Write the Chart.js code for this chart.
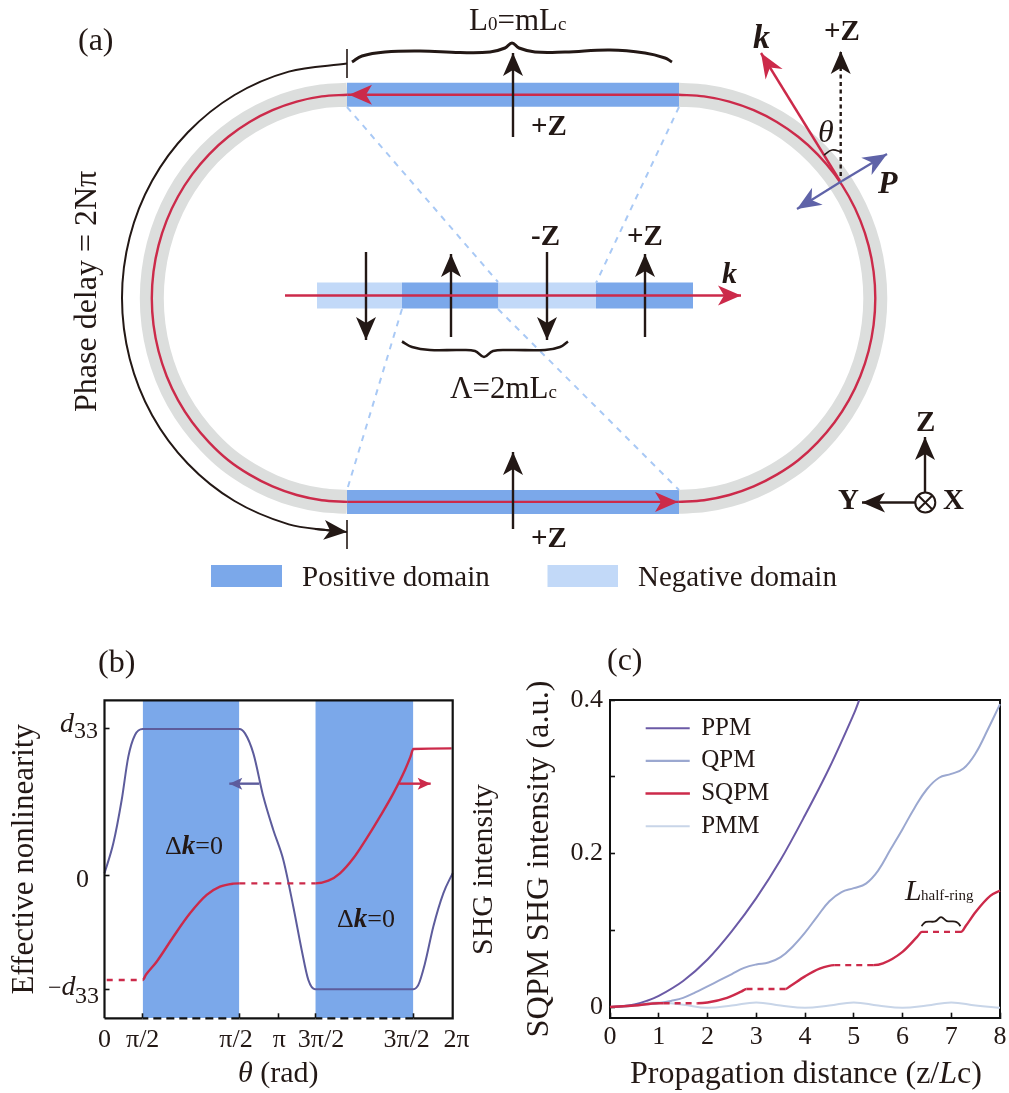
<!DOCTYPE html>
<html><head><meta charset="utf-8">
<style>html,body{margin:0;padding:0;background:#fff;width:1009px;height:1093px;overflow:hidden}
canvas{position:absolute;left:0;top:0}</style>
<script src="https://cdn.jsdelivr.net/npm/chart.js@4"></script>
</head><body>
<canvas id="a" width="1009" height="1093"></canvas>
<canvas id="b" width="1009" height="1093"></canvas>
<canvas id="c" width="1009" height="1093"></canvas>
<script>
/* ---------- panel (a): schematic, in page-sized diagram units ---------- */
const leftArcX=[347.3,321.8,296.7,272.5,249.55,228.3,209.1,192.2,178,166.7,158.5,153.5,151.8,153.5,158.5,166.7,178,192.2,209.1,228.3,249.55,272.5,296.7,321.8,347.3];
const leftArcY=[94.7,96.4,101.6,110.2,122,136.8,154.3,174.4,196.5,220.4,245.6,271.7,298.3,324.9,351,376.2,400.1,422.2,442.3,460.2,474.6,486.4,495,500.2,501.9];
const rightArcX=[678.3,704,729.3,753.7,776.8,798.2,817.6,834.6,848.9,860.3,868.6,873.6,875.3,873.6,868.6,860.3,848.9,834.6,817.6,798.2,776.8,753.7,729.3,704,678.3];
const rightArcY=[94.7,96.4,101.6,110.2,122,136.8,154.3,174.4,196.5,220.4,245.6,271.7,298.3,324.9,351,376.2,400.1,422.2,442.3,460.2,474.6,486.4,495,500.2,501.9];
const straightRuns=[[347.3,678.3,94.7],[347.3,678.3,501.9]];
const phaseArcX=[347,288.8,234.5,187.9,152.1,129.7,122,129.7,152.1,187.9,234.5,288.8,330];
const phaseArcY=[63.6,71.6,95,132.3,180.8,237.3,298,358.7,415.2,463.7,501,524.4,530.5];
const topBraceX=[352,362,385,420,460,490,505,512,519,535,565,610,645,665,672];
const topBraceY=[62,56,52,51,52.5,52,48,43,48,52,52,50,53,58,62];
const lambdaBraceX=[402,412,430,460,475,484,493,510,545,560,568];
const lambdaBraceY=[341.5,347,350,350,351,357,351,350,350,347,341.5];
const positiveBars=[[347,679,94.7],[347,679,502],[402,498.5,295.5],[596,693,295.5],[211,282,576]];
const negativeBars=[[317,402,295.5],[498.5,596,295.5],[547.5,618,576]];
const guideLines=[[347,107,498,282],[498,309,679,490],[679,107,596,283],[402,309,347,490]];
const tickBars=[[347,49,347,78],[347,520,347,549]];
const blackArrows=[[513,137,513,53],[513,529,513,452],[366,252,366,340],[451,337,451,254],[547,252,547,340],[645,337,645,254],[925,492,925,437],[915,502.5,862,502.5]];
const phaseArrow=[315,529,347,532];
const redArrows=[[678,94.7,349,94.7],[348,502,678,502],[285,295.5,741,295.5],[840,181,761,53]];
const zArrow=[840.7,176,840.7,51];
const polarisation=[[842,181,887,154],[842,181,797,209]];
const thetaArcX=[824,832,842];const thetaArcY=[155,150,152];
const axisOriginX=[925.3];const axisOriginY=[502.5];
/* ---------- panel (b) ---------- */
const bTickValues=[0.689,2.433,3.1416,3.804,5.573];
const bLabelValues=[0,0.689,2.373,3.154,3.907,5.453,6.355];
const bLabelTexts=['0','π/2','π/2','π','3π/2','3π/2','2π'];
const bYTicks=[-0.77,0,1];
const dEffX=[0,.159,.31,.43,.55,.689,2.433,2.535,2.686,2.866,3.046,3.227,3.407,3.558,3.678,3.798,5.573,5.663,5.783,5.933,6.114,6.283];
const dEffY=[.018,.222,.517,.812,.959,1,1,.97,.834,.54,.313,.109,-.209,-.503,-.707,-.77,-.77,-.741,-.594,-.345,-.118,.02];
const shgX=[.04,.689,.75,.941,1.242,1.543,1.844,2.084,2.325,2.433,3.804,4.039,4.249,4.49,4.73,4.971,5.212,5.422,5.52,5.573,6.264];
const shgY=[-.707,-.707,-.67,-.583,-.413,-.254,-.129,-.073,-.052,-.05,-.05,-.032,.018,.12,.256,.404,.562,.721,.81,.864,.868];
const shgDashed=[1,0,0,0,0,0,0,0,0,1,0,0,0,0,0,0,0,0,0,0];
const bandsX=[[.689,2.433],[3.804,5.573]];
const frameBX=[0,0,6.2832,6.2832,5.573,3.804,2.433,.689,0];
const frameBDashed=[0,0,0,0,1,0,1,0];
/* ---------- panel (c) ---------- */
const cXTicks=[0,1,2,3,4,5,6,7,8];
const cYTicks=[0,.1,.2,.3,.4];
const cYLabels=['0','','0.2','','0.4'];
const ppmX=[0,.25,.5,.75,1,1.5,2,2.5,3,3.5,4,4.5,5,5.11];
const ppmY=[0,.001,.0035,.008,.0145,.034,.062,.099,.142,.192,.25,.312,.382,.4];
const qpmX=[0,.25,.5,.75,1,1.25,1.5,1.75,2,2.25,2.5,2.75,3,3.25,3.5,3.75,4,4.25,4.5,4.75,5,5.25,5.5,5.75,6,6.25,6.5,6.75,7,7.25,7.5,7.75,8];
const qpmY=[0,.0005,.002,.0035,.005,.008,.012,.019,.027,.035,.043,.051,.0555,.058,.065,.079,.097,.118,.138,.15,.155,.161,.178,.205,.232,.26,.284,.299,.304,.311,.331,.362,.395];
const sqpmX=[0,.5,1,1.1,1.8,2,2.4,2.7,2.8,3.6,3.7,4,4.3,4.6,5.4,5.6,6,6.3,6.4,7.2,7.3,7.5,7.8,8];
const sqpmY=[0,.002,.005,.005,.005,.006,.012,.0205,.0235,.0235,.0275,.04,.05,.0547,.0547,.057,.072,.0915,.098,.098,.106,.124,.145,.152];
const sqpmDashed=[0,0,0,1,0,0,0,0,1,0,0,0,0,1,0,0,0,0,1,0,0,0,0];
const pmmX=[0,.5,1,1.5,2,2.5,3,3.5,4,4.5,5,5.5,6,6.5,7,7.5,8];
const pmmY=[0,.003,.006,.003,-.001,.002,.006,.002,-.001,.002,.006,.002,-.001,.002,.006,.002,-.001];
const halfRingBraceX=[6.39,6.48,6.67,6.79,6.91,7.08,7.14,7.19];
const halfRingBraceY=[.1056,.111,.1117,.1173,.1121,.1115,.1095,.1056];

const INK='#231815',RED='#cc2a4a',TRACK='#dcdedd',BLUE='#7ba8ea',LIGHT='#c2d9f8',GUIDE='#a9c9f5',VIOLET='#5f63a8';
const PPM='#6b5aa6',QPM='#9ba8d0',PMM='#c8d5e8',CURVE='#5d5c9c';
const S='"Liberation Serif"';
const F={r:`30px ${S}`,m:`31px ${S}`,pan:`32px ${S}`,ph:`32px ${S}`,xt:`32px ${S}`,xi:`italic 32px ${S}`,lab:`29px ${S}`,tick:`26px ${S}`,b:`bold 29px ${S}`,k:`italic bold 34px ${S}`,ki:`italic bold 30px ${S}`,th:`italic 32px ${S}`,P:`italic bold 32px ${S}`,sub:`19px ${S}`,sub2:`15px ${S}`,it:`italic 30px ${S}`,kb:`italic bold 27px ${S}`,d:`24px ${S}`,ds:`italic 28px ${S}`};

const pts=(xs,ys)=>xs.map((x,i)=>({x,y:ys[i]}));
const ln=(data,color,w,extra)=>Object.assign({data,borderColor:color,backgroundColor:color,borderWidth:w,pointRadius:0,fill:false,clip:false},extra||{});
const seg=(flags,dash)=>({borderDash:c=>flags[c.p0DataIndex]?dash:undefined});
const ordered=list=>list.map((d,i)=>Object.assign(d,{order:-i}));

function head(ctx,x0,y0,x1,y1,color,len,half,notch){
  const a=Math.atan2(y1-y0,x1-x0),c=Math.cos(a),s=Math.sin(a);
  ctx.fillStyle=color;ctx.beginPath();ctx.moveTo(x1,y1);
  ctx.lineTo(x1-len*c-half*s,y1-len*s+half*c);
  ctx.lineTo(x1-notch*c,y1-notch*s);
  ctx.lineTo(x1-len*c+half*s,y1-len*s-half*c);
  ctx.closePath();ctx.fill();
}
function overlay(arrows,texts){return {id:'overlay',afterDraw(chart){
  const {ctx,scales:{x,y}}=chart;ctx.save();
  arrows.forEach(([v,color,len,half,notch])=>head(ctx,x.getPixelForValue(v[0]),y.getPixelForValue(v[1]),x.getPixelForValue(v[2]),y.getPixelForValue(v[3]),color,len,half,notch));
  ctx.textBaseline='alphabetic';ctx.textAlign='left';ctx.fillStyle=INK;
  texts.forEach(t=>{ctx.save();ctx.translate(t[0],t[1]);if(t[3])ctx.rotate(t[3]);let cx=0;
    t[2].forEach(([s,f])=>{ctx.font=F[f];ctx.fillText(s,cx,0);cx+=ctx.measureText(s).width});ctx.restore();});
  ctx.restore();
}}}
const base={responsive:false,animation:false,events:[],parsing:false,normalized:false};

/* ---- (a) ---- */
const barW=b=>b[2]===576?22:(b[2]===295.5?26:24);
const arcStyle={tension:.33};
const aSets=[
  ln(pts(leftArcX,leftArcY),TRACK,24,arcStyle),
  ln(pts(rightArcX,rightArcY),TRACK,24,arcStyle),
  ...positiveBars.map(b=>ln(pts([b[0],b[1]],[b[2],b[2]]),BLUE,barW(b))),
  ...negativeBars.map(b=>ln(pts([b[0],b[1]],[b[2],b[2]]),LIGHT,barW(b))),
  ...guideLines.map(g=>ln(pts([g[0],g[2]],[g[1],g[3]]),GUIDE,2,{borderDash:[6,6]})),
  ln(pts(leftArcX,leftArcY),RED,2.4,arcStyle),
  ln(pts(rightArcX,rightArcY),RED,2.4,arcStyle),
  ...straightRuns.map(b=>ln(pts([b[0],b[1]],[b[2],b[2]]),RED,2.4)),
  ln(pts(phaseArcX,phaseArcY),INK,2,arcStyle),
  ln(pts(topBraceX,topBraceY),INK,3,{tension:.4}),
  ln(pts(lambdaBraceX,lambdaBraceY),INK,2.6,{tension:.4}),
  ...tickBars.map(g=>ln(pts([g[0],g[2]],[g[1],g[3]]),INK,1.6)),
  ...blackArrows.map(g=>ln(pts([g[0],g[2]],[g[1],g[3]]),INK,2.4)),
  ln(pts([phaseArrow[0],phaseArrow[2]],[phaseArrow[1],phaseArrow[3]]),INK,2),
  ...redArrows.slice(2).map(g=>ln(pts([g[0],g[2]],[g[1],g[3]]),RED,2.4)),
  ln(pts([zArrow[0],zArrow[2]],[zArrow[1],zArrow[3]]),INK,2.4,{borderDash:[4,3.5]}),
  ...polarisation.map(g=>ln(pts([g[0],g[2]],[g[1],g[3]]),VIOLET,2.2)),
  ln(pts(thetaArcX,thetaArcY),INK,1.6,{tension:.4}),
  ln(pts(axisOriginX,axisOriginY),INK,2,{showLine:false,pointStyle:'circle',pointRadius:10,pointBorderColor:INK,pointBorderWidth:2,pointBackgroundColor:'#fff'}),
  ln(pts(axisOriginX,axisOriginY),INK,2,{showLine:false,pointStyle:'crossRot',pointRadius:10,pointBorderColor:INK,pointBorderWidth:2})
];
const aArrows=[
  ...blackArrows.map(v=>[v,INK,23,10,17]),[phaseArrow,INK,23,10,17],
  ...redArrows.map((v,i)=>[v,RED,i===3?25:23,10,17]),[zArrow,INK,23,10,17],
  ...polarisation.map(v=>[v,VIOLET,24,10,17])
];
const aTexts=[
  [78,50,[['(a)','pan']]],
  [469,30,[['L','m'],['0','sub'],['=mL','m'],['c','sub']]],
  [531,135,[['+Z','b']]],[531,245,[['-Z','b']]],[627,245,[['+Z','b']]],[824,40,[['+Z','b']]],[531,547,[['+Z','b']]],
  [753,48,[['k','k']]],[818,142,[['θ','th']]],[878,193,[['P','P']]],[722,283,[['k','ki']]],
  [450,398,[['Λ=2mL','m'],['c','sub']]],
  [916,431,[['Z','b']]],[838,509,[['Y','b']]],[943,509,[['X','b']]],
  [96,412,[['Phase delay = 2Nπ','ph']],-Math.PI/2],
  [302,586,[['Positive domain','lab']]],[638,586,[['Negative domain','lab']]]
];
new Chart('a',{type:'line',data:{datasets:ordered(aSets)},plugins:[overlay(aArrows,aTexts)],options:{...base,
  layout:{autoPadding:false},
  scales:{x:{type:'linear',display:false,min:0,max:1009},y:{type:'linear',display:false,min:0,max:1093,reverse:true}},
  plugins:{legend:{display:false},tooltip:{enabled:false}}}});

/* ---- (b) ---- */
const bTop=1.195,bBot=-.968;
const bSets=[
  ...bandsX.map(b=>ln(pts(b,[bTop,bTop]),BLUE,0,{fill:{target:'start'},backgroundColor:BLUE})),
  ln(pts(dEffX,dEffY),CURVE,2,{cubicInterpolationMode:'monotone'}),
  ln(pts(shgX,shgY),RED,2.4,{cubicInterpolationMode:'monotone',segment:seg(shgDashed,[6,6])}),
  ln(pts([2.793,2.252],[.628,.628]),CURVE,2.4),
  ln(pts([5.319,5.886],[.628,.628]),RED,2.4),
  ln(pts(frameBX,[bBot,bTop,bTop,bBot,bBot,bBot,bBot,bBot,bBot]),'#111',2.2,{segment:seg(frameBDashed,[8,5])})
];
const bArrows=[[[2.793,.628,2.252,.628],CURVE,13,6,10],[[5.319,.628,5.886,.628],RED,13,6,10]];
const bTexts=[
  [60,732,[['d','ds']]],[74,738,[['33','d']]],
  [48,995,[['−','d'],['d','ds']]],[75,1003,[['33','d']]],
  [76,887,[['0','tick']]],
  [165,854,[['Δ','tick'],['k','kb'],['=0','tick']]],[337,927,[['Δ','tick'],['k','kb'],['=0','tick']]],
  [98,672,[['(b)','pan']]],
  [238,1082,[['θ','it'],[' (rad)','r']]],
  [492,955,[['SHG intensity','r']],-Math.PI/2]
];
new Chart('b',{type:'line',data:{datasets:ordered(bSets)},plugins:[overlay(bArrows,bTexts)],options:{...base,
  layout:{autoPadding:false,padding:{left:6,top:700.3,right:1009-452.7,bottom:1093-1018.3-36}},
  scales:{
    x:{type:'linear',position:'bottom',weight:0,min:0,max:6.2832,afterBuildTicks:s=>{s.ticks=bTickValues.map(value=>({value}))},afterFit:s=>{s.height=0},
       ticks:{display:false},border:{display:false},grid:{drawOnChartArea:false,tickLength:-5,tickColor:'#111',tickWidth:1.6,z:1}},
    xL:{type:'linear',position:'bottom',weight:1,min:0,max:6.2832,afterBuildTicks:s=>{s.ticks=bLabelValues.map(value=>({value}))},afterFit:s=>{s.height=36},
       border:{display:false},grid:{display:false,drawTicks:false},
       ticks:{autoSkip:false,maxRotation:0,padding:6,color:INK,font:{family:S,size:26},callback:(v,i)=>bLabelTexts[i]}},
    y:{type:'linear',min:bBot,max:bTop,afterBuildTicks:s=>{s.ticks=bYTicks.map(value=>({value}))},afterFit:s=>{s.width=98.5},
       title:{display:true,text:'Effective nonlinearity',color:INK,font:{family:S,size:31},padding:0},
       ticks:{display:false},border:{display:false},grid:{drawOnChartArea:false,tickLength:-5,tickColor:'#111',tickWidth:1.6,z:1}}
  },
  plugins:{legend:{display:false},tooltip:{enabled:false}}}});

/* ---- (c) ---- */
const cBot=-.0139;
const cSets=[
  ln(pts(pmmX,pmmY),PMM,2,{label:'PMM',tension:.4}),
  ln(pts(qpmX,qpmY),QPM,2,{label:'QPM',tension:.4}),
  ln(pts(ppmX,ppmY),PPM,2,{label:'PPM',tension:.35}),
  ln(pts(sqpmX,sqpmY),RED,2.4,{label:'SQPM',cubicInterpolationMode:'monotone',segment:seg(sqpmDashed,[6,5])}),
  ln(pts(halfRingBraceX,halfRingBraceY),INK,1.8,{label:'',tension:.4})
];
const cTexts=[
  [607,670,[['(c)','pan']]],
  [630,1083,[['Propagation distance (z/','xt'],['L','xi'],['c)','xt']]],
  [905,900,[['L','it']]],[921,900,[['half-ring','sub2']]]
];
const order=['PPM','QPM','SQPM','PMM'];
new Chart('c',{type:'line',data:{datasets:ordered(cSets)},
  plugins:[overlay([],cTexts),{id:'legendPlace',afterLayout(ch){const l=ch.legend;l.left=639;l.right=800;l.top=708;l.bottom=860}}],
  options:{...base,
  layout:{autoPadding:false,padding:{left:520,top:700.3,right:9,bottom:1093-1017.7-38}},
  scales:{
    x:{type:'linear',min:0,max:8,afterBuildTicks:s=>{s.ticks=cXTicks.map(value=>({value}))},afterFit:s=>{s.height=38;s.paddingRight=0;s.paddingLeft=0},
       border:{color:'#111',width:2},grid:{drawOnChartArea:false,tickLength:-5,tickColor:'#111',tickWidth:1.6},
       ticks:{autoSkip:false,maxRotation:0,padding:9,color:INK,font:{family:S,size:26}}},
    y:{type:'linear',min:cBot,max:.4,afterBuildTicks:s=>{s.ticks=cYTicks.map(value=>({value}))},afterFit:s=>{s.width=90;s.paddingTop=0;s.paddingBottom=0},
       title:{display:true,text:'SQPM SHG intensity (a.u.)',color:INK,font:{family:S,size:32.4},padding:0},
       border:{color:'#111',width:2},grid:{drawOnChartArea:false,tickLength:-5,tickColor:'#111',tickWidth:1.6},
       ticks:{autoSkip:false,padding:12,color:INK,font:{family:S,size:26},callback:(v,i)=>cYLabels[i]}},
    yR:{type:'linear',position:'right',min:cBot,max:.4,afterFit:s=>{s.width=0;s.paddingTop=0;s.paddingBottom=0},ticks:{display:false},grid:{display:false,drawTicks:false},border:{color:'#111',width:2}},
    xT:{type:'linear',position:'top',min:0,max:8,afterFit:s=>{s.height=0;s.paddingRight=0;s.paddingLeft=0},ticks:{display:false},grid:{display:false,drawTicks:false},border:{color:'#111',width:2}}
  },
  plugins:{tooltip:{enabled:false},
    legend:{position:'chartArea',align:'start',labels:{boxWidth:42,boxHeight:.1,padding:7.7,color:INK,font:{family:S,size:25,lineHeight:1},
      filter:i=>i.text!=='',sort:(p,q)=>order.indexOf(p.text)-order.indexOf(q.text)}}}}});
</script>
</body></html>
